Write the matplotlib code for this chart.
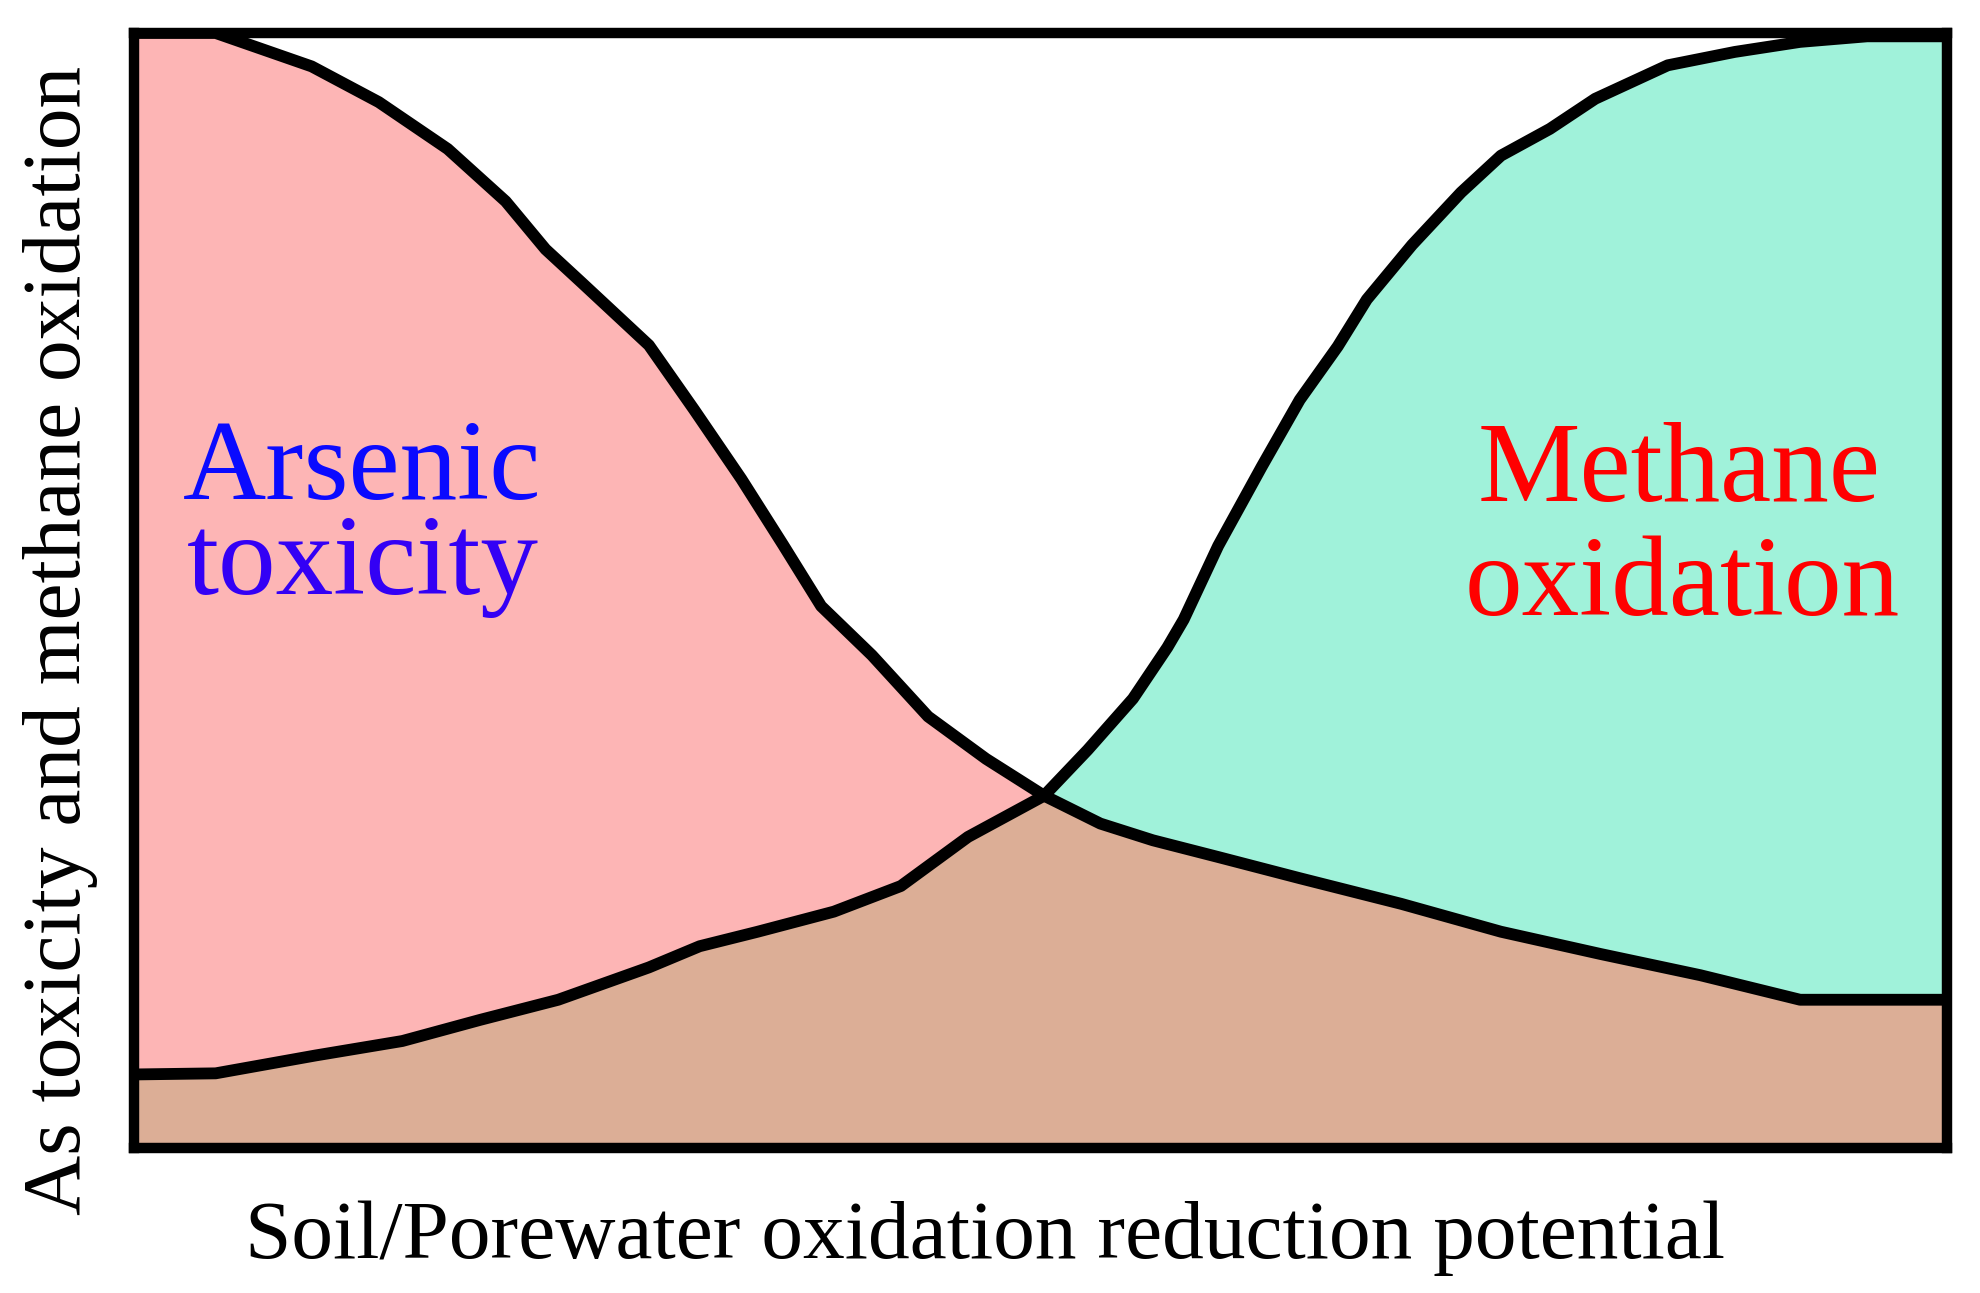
import matplotlib.pyplot as plt

# curve values (x: 0-100 across the redox axis, y: 0-100)
arsenic_x = [0, 4.5, 9.8, 13.5, 17.3, 20.5, 22.7, 24.7, 28.4, 30.9, 33.5, 35.8, 37.9, 40.7,
             43.8, 47.0, 50.2, 53.3, 56.2, 59.8, 64.3, 69.9, 75.4, 80.9, 86.4, 91.9, 95.8, 100]
arsenic_y = [100, 100, 97.0, 93.8, 89.6, 84.9, 80.6, 77.6, 72.0, 66.2, 60.0, 54.1, 48.6, 44.2,
             38.7, 34.9, 31.6, 29.1, 27.6, 26.1, 24.2, 21.9, 19.4, 17.4, 15.5, 13.3, 13.3, 13.3]

methane_x = [0, 4.5, 10.0, 14.8, 19.1, 23.4, 28.4, 31.2, 34.4, 38.6, 42.3, 46.0, 50.2, 52.6,
             55.1, 57.0, 57.9, 59.8, 62.2, 64.3, 66.4, 68.0, 70.5, 73.2, 75.4, 78.1, 80.6,
             84.6, 88.3, 91.9, 95.6, 100]
methane_y = [6.6, 6.7, 8.3, 9.6, 11.5, 13.3, 16.2, 18.1, 19.4, 21.2, 23.5, 27.9, 31.6, 35.7,
             40.3, 44.9, 47.4, 54.0, 61.1, 67.1, 71.9, 76.1, 81.0, 85.7, 89.0, 91.4, 94.1,
             97.1, 98.3, 99.2, 99.7, 99.7]

arsenic_color = '#FDB5B5'
methane_color = '#A0F2DA'
overlap_color = '#DCAE96'

plt.rcParams['font.family'] = ['Liberation Serif', 'DejaVu Serif']

fig = plt.figure(figsize=(19.8, 12.93), dpi=100)
ax = fig.add_axes([0.0677, 0.1121, 0.9156, 0.8624])

ax.fill_between(arsenic_x, 0, arsenic_y, color=arsenic_color, lw=0, zorder=1)
teal = ax.fill_between(methane_x, 0, methane_y, color=methane_color, lw=0, zorder=1)
# overlap region: arsenic area clipped to the methane area
overlap = ax.fill_between(arsenic_x, 0, arsenic_y, color=overlap_color, lw=0, zorder=1.1)
overlap.set_clip_path(teal.get_paths()[0], ax.transData)

ax.plot(arsenic_x, arsenic_y, color='black', lw=8.5, solid_capstyle='round',
        solid_joinstyle='round', zorder=2)
ax.plot(methane_x, methane_y, color='black', lw=8.5, solid_capstyle='round',
        solid_joinstyle='round', zorder=2)

ax.set_xlim(0, 100)
ax.set_ylim(0, 100)
ax.set_xticks([])
ax.set_yticks([])
for s in ax.spines.values():
    s.set_linewidth(7.5)
    s.set_zorder(3)

# labels inside the plot
ax.text(0.126, 0.582, 'Arsenic', transform=ax.transAxes, ha='center', va='baseline',
        fontsize=83, color='#0A0AFF')
ax.text(0.126, 0.497, 'toxicity', transform=ax.transAxes, ha='center', va='baseline',
        fontsize=83, color='#3300F5')
ax.text(0.852, 0.580, 'Methane', transform=ax.transAxes, ha='center', va='baseline',
        fontsize=83, color='#FF0000')
ax.text(0.854, 0.478, 'oxidation', transform=ax.transAxes, ha='center', va='baseline',
        fontsize=83, color='#FF0000')

fig.text(0.4977, 0.027, 'Soil/Porewater oxidation reduction potential', ha='center',
         va='baseline', fontsize=60)
fig.text(0.0303, 0.505, 'As toxicity and methane oxidation', rotation=90, ha='center',
         va='center', fontsize=60)

fig.savefig('out.png', dpi=100)
